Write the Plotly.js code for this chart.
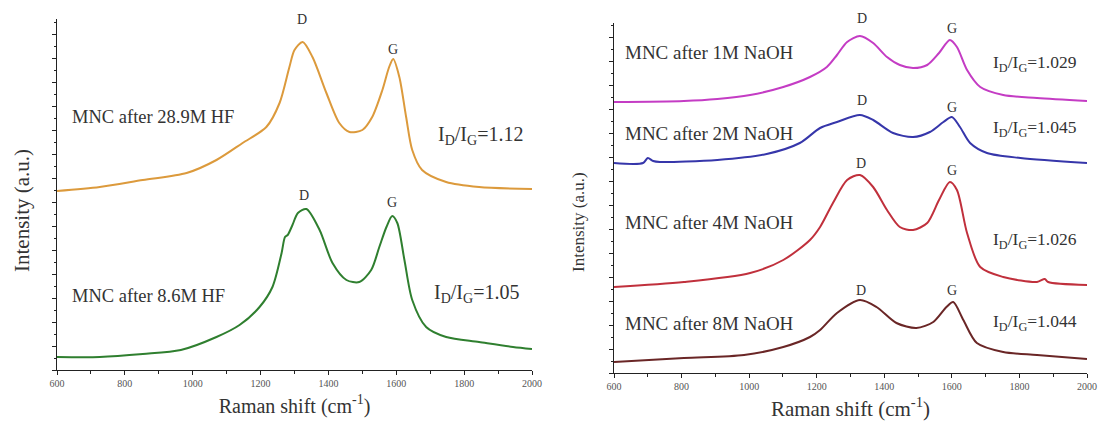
<!DOCTYPE html>
<html>
<head>
<meta charset="utf-8">
<script src="https://cdn.plot.ly/plotly-3.0.1.min.js"></script>
<style>html,body{margin:0;padding:0;background:#fff;}#chart{width:1099px;height:430px;}</style>
</head>
<body>
<div id="chart"></div>
<script>
// ---- Left panel: HF-treated samples (Raman shift, intensity a.u.) ----
const hf289_x = [600, 726, 853, 982, 1070, 1147, 1217, 1256, 1285, 1300, 1324, 1353, 1394, 1432, 1462, 1500, 1529, 1559, 1579, 1591, 1609, 1629, 1647, 1676, 1747, 1844, 2000];
const hf289_y = [179, 183, 190, 197, 210, 227, 243, 267, 303, 320, 328, 313, 277, 247, 238, 240, 253, 280, 303, 311, 293, 253, 220, 200, 188, 183, 181];

const hf86_x = [600, 726, 853, 965, 1070, 1138, 1197, 1235, 1262, 1272, 1280, 1294, 1310, 1335, 1374, 1412, 1453, 1491, 1526, 1550, 1571, 1588, 1603, 1624, 1647, 1688, 1747, 1844, 1944, 2000];
const hf86_y = [13, 13, 16, 20, 33, 45, 63, 83, 117, 133, 135, 145, 157, 161, 140, 107, 90, 88, 100, 123, 143, 154, 147, 110, 70, 43, 33, 28, 23, 21];

// ---- Right panel: NaOH-treated samples ----
const naoh1_x = [600, 807, 906, 1003, 1101, 1180, 1230, 1260, 1290, 1328, 1367, 1408, 1446, 1485, 1527, 1562, 1594, 1615, 1645, 1684, 1752, 1852, 2000];
const naoh1_y = [271, 272, 274, 278, 286, 296, 306, 318, 331, 337, 330, 316, 308, 305, 308, 320, 333, 326, 303, 286, 278, 275, 272];

const naoh2_x = [600, 686, 700, 716, 736, 906, 1052, 1150, 1210, 1260, 1328, 1367, 1426, 1485, 1535, 1575, 1600, 1624, 1654, 1704, 1803, 2000];
const naoh2_y = [210, 210, 215, 212, 211, 213, 219, 230, 245, 251, 258, 253, 240, 236, 241, 251, 256, 246, 230, 220, 215, 210];

const naoh4_x = [600, 807, 1003, 1101, 1180, 1210, 1248, 1290, 1328, 1367, 1408, 1446, 1485, 1527, 1562, 1594, 1615, 1645, 1684, 1752, 1852, 1875, 1885, 2000];
const naoh4_y = [86, 91, 100, 113, 133, 146, 170, 193, 198, 186, 163, 146, 143, 150, 173, 191, 183, 140, 106, 96, 91, 94, 91, 88];

const naoh8_x = [600, 807, 985, 1101, 1180, 1210, 1260, 1328, 1377, 1436, 1495, 1545, 1584, 1604, 1634, 1674, 1752, 1852, 2000];
const naoh8_y = [11, 15, 18, 26, 36, 43, 60, 73, 66, 50, 45, 51, 66, 71, 53, 30, 21, 18, 14];

const leftLabels = ["MNC after 28.9M HF", "MNC after 8.6M HF"];
const leftRatios = ["1.12", "1.05"];
const rightLabels = ["MNC after 1M NaOH", "MNC after 2M NaOH", "MNC after 4M NaOH", "MNC after 8M NaOH"];
const rightRatios = ["1.029", "1.045", "1.026", "1.044"];
const xTickVals = [600, 800, 1000, 1200, 1400, 1600, 1800, 2000];

const SERIF = 'Liberation Serif, Times New Roman, serif';
const TXT = '#333333';

function tr(x, y, color, xa, ya) {
  return {x: x, y: y, type: 'scatter', mode: 'lines', xaxis: xa, yaxis: ya,
    line: {color: color, width: 2, shape: 'spline', smoothing: 0.8}, hoverinfo: 'skip', showlegend: false};
}

const data = [
  tr(hf289_x, hf289_y, '#dc9a3c', 'x', 'y'),
  tr(hf86_x, hf86_y, '#2f7f2f', 'x', 'y'),
  tr(naoh1_x, naoh1_y, '#c43cc4', 'x2', 'y2'),
  tr(naoh2_x, naoh2_y, '#3636aa', 'x2', 'y2'),
  tr(naoh4_x, naoh4_y, '#c0303c', 'x2', 'y2'),
  tr(naoh8_x, naoh8_y, '#6a2626', 'x2', 'y2')
];

function ann(xref, yref, x, y, text, size, xanchor, yshift) {
  return {xref: xref, yref: yref, x: x, y: y, text: text, showarrow: false,
    xanchor: xanchor || 'center', yanchor: 'middle', yshift: yshift || 0,
    font: {family: SERIF, size: size, color: TXT}};
}
function yTitle(x, y, size) {
  return {xref: 'paper', yref: 'paper', x: x, y: y, text: 'Intensity (a.u.)', textangle: -90,
    showarrow: false, xanchor: 'center', yanchor: 'middle',
    font: {family: SERIF, size: size, color: TXT}};
}

const annotations = [
  ann('x', 'y', 638, 253, leftLabels[0], 18.5, 'left'),
  ann('x', 'y', 638, 74, leftLabels[1], 18.5, 'left'),
  ann('x', 'y', 1716, 235, 'I<sub>D</sub>/I<sub>G</sub>=' + leftRatios[0], 20, 'left'),
  ann('x', 'y', 1704, 77, 'I<sub>D</sub>/I<sub>G</sub>=' + leftRatios[1], 20, 'left'),
  ann('x', 'y', 1322, 345, 'D', 14, 'center', 6), ann('x', 'y', 1591, 321, 'G', 14),
  ann('x', 'y', 1328, 175, 'D', 14), ann('x', 'y', 1588, 168, 'G', 14),

  ann('x2', 'y2', 628, 321, rightLabels[0], 19, 'left'),
  ann('x2', 'y2', 628, 240, rightLabels[1], 19, 'left'),
  ann('x2', 'y2', 628, 151, rightLabels[2], 19, 'left'),
  ann('x2', 'y2', 628, 50, rightLabels[3], 19, 'left'),
  ann('x2', 'y2', 1716, 310, 'I<sub>D</sub>/I<sub>G</sub>=' + rightRatios[0], 17.5, 'left'),
  ann('x2', 'y2', 1716, 245, 'I<sub>D</sub>/I<sub>G</sub>=' + rightRatios[1], 17.5, 'left'),
  ann('x2', 'y2', 1716, 133, 'I<sub>D</sub>/I<sub>G</sub>=' + rightRatios[2], 17.5, 'left'),
  ann('x2', 'y2', 1716, 51, 'I<sub>D</sub>/I<sub>G</sub>=' + rightRatios[3], 17.5, 'left'),
  ann('x2', 'y2', 1335, 345, 'D', 14, 'center', 10), ann('x2', 'y2', 1600, 345, 'G', 14),
  ann('x2', 'y2', 1335, 273, 'D', 14), ann('x2', 'y2', 1600, 266, 'G', 14),
  ann('x2', 'y2', 1332, 210, 'D', 14), ann('x2', 'y2', 1600, 203, 'G', 14),
  ann('x2', 'y2', 1332, 83, 'D', 14), ann('x2', 'y2', 1600, 83, 'G', 14),

  yTitle(22/1099, 1 - 211/430, 21),
  yTitle(578/1099, 1 - 222/430, 17)
];

function xAxis(domain, anchor, titleSize) {
  return {domain: domain, anchor: anchor, range: [600, 2000], tickvals: xTickVals,
    showline: true, linecolor: '#222', linewidth: 1, mirror: false,
    ticks: 'outside', ticklen: 4, tickcolor: '#222', tickwidth: 1,
    minor: {dtick: 100, tick0: 600, ticks: 'outside', ticklen: 3, tickcolor: '#222'},
    showgrid: false, zeroline: false,
    tickfont: {family: SERIF, size: 10, color: '#555'},
    title: {text: 'Raman shift (cm<sup>-1</sup>)', font: {family: SERIF, size: titleSize, color: TXT}, standoff: 10}};
}
function yAxis(domain, anchor, range) {
  return {domain: domain, anchor: anchor, range: range,
    showline: true, linecolor: '#222', linewidth: 1,
    ticks: 'outside', ticklen: 4, tickcolor: '#222', tick0: 0, dtick: 24, showticklabels: false,
    minor: {dtick: 12, tick0: 0, ticks: 'outside', ticklen: 2, tickcolor: '#222'},
    showgrid: false, zeroline: false};
}

const layout = {
  width: 1099, height: 430,
  margin: {l: 0, r: 0, t: 0, b: 0},
  paper_bgcolor: '#fff', plot_bgcolor: '#fff',
  showlegend: false,
  xaxis: xAxis([57/1099, 532/1099], 'y', 20),
  yaxis: yAxis([1 - 370/430, 1 - 19/430], 'x', [0, 351]),
  xaxis2: xAxis([614/1099, 1087/1099], 'y2', 21),
  yaxis2: yAxis([1 - 373/430, 1 - 23/430], 'x2', [0, 350]),
  annotations: annotations
};

Plotly.newPlot('chart', data, layout, {displayModeBar: false, staticPlot: true});
</script>
</body>
</html>
